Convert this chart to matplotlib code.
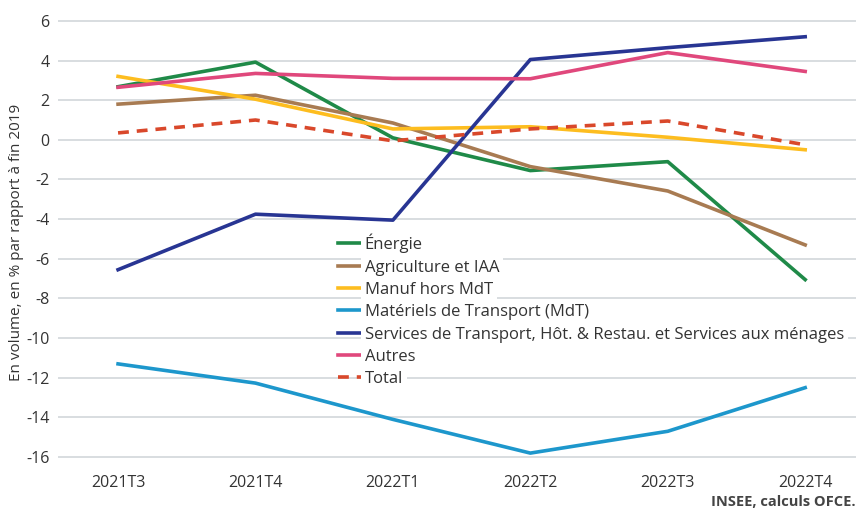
import matplotlib.pyplot as plt

plt.rcParams['font.family'] = ['Open Sans', 'DejaVu Sans']
plt.rcParams['axes.unicode_minus'] = False

quarters = ['2021T3', '2021T4', '2022T1', '2022T2', '2022T3', '2022T4']

energie = [2.68, 3.92, 0.1, -1.55, -1.1, -7.05]
agriculture = [1.8, 2.25, 0.85, -1.35, -2.58, -5.3]
manuf = [3.2, 2.05, 0.55, 0.66, 0.13, -0.5]
materiels = [-11.3, -12.27, -14.1, -15.8, -14.7, -12.5]
services = [-6.55, -3.75, -4.05, 4.05, 4.65, 5.2]
autres = [2.65, 3.35, 3.1, 3.08, 4.4, 3.45]
total = [0.35, 1.0, -0.05, 0.55, 0.95, -0.25]

series = [
    ('Énergie', energie, '#1f8a48', '-'),
    ('Agriculture et IAA', agriculture, '#a87b52', '-'),
    ('Manuf hors MdT', manuf, '#fdbd1f', '-'),
    ('Matériels de Transport (MdT)', materiels, '#1d97cc', '-'),
    ('Services de Transport, Hôt. & Restau. et Services aux ménages', services, '#283593', '-'),
    ('Autres', autres, '#e0487c', '-'),
    ('Total', total, '#d9482b', '--'),
]

fig, ax = plt.subplots(figsize=(8.58, 5.15), dpi=100)
fig.subplots_adjust(left=0.0676, right=0.9977, top=0.971, bottom=0.0894)

x = range(len(quarters))
for name, vals, color, ls in series:
    line, = ax.plot(x, vals, color=color, linewidth=2.6, label=name, zorder=3)
    if ls == '--':
        line.set_dashes((3, 2.2))

ax.set_xlim(-0.437, 5.37)
ax.set_ylim(-16.6, 6.3)
ax.set_yticks(range(-16, 7, 2))
ax.set_xticks(list(x))
ax.set_xticklabels(quarters)
ax.grid(axis='y', color='#d6dadd', linewidth=1.3, zorder=0)
ax.set_axisbelow(True)
for s in ax.spines.values():
    s.set_visible(False)
ax.tick_params(length=0, labelsize=11.5, colors='#333333', pad=6)
ax.tick_params(axis='x', pad=4)

ax.set_ylabel('En volume, en % par rapport à fin 2019', fontsize=11, color='#333333')
ax.yaxis.set_label_coords(-0.043, 0.5)

# legend sits under the lines but over the grid
leg = ax.legend(loc='upper left', bbox_to_anchor=(0.338, 0.54), frameon=False, fontsize=12,
                handlelength=1.4, handletextpad=0.22, labelspacing=0.38, borderpad=0.1)
leg.set_zorder(2)
for t in leg.get_texts():
    t.set_color('#333333')
    t.set_bbox(dict(facecolor='white', edgecolor='none', pad=3))
for h in leg.legend_handles:
    h.set_linewidth(2.6)

fig.text(0.997, 0.012, 'INSEE, calculs OFCE.', ha='right', va='bottom', fontsize=10.5,
         fontweight='bold', color='#444444')

fig.savefig('out.png', dpi=100)
